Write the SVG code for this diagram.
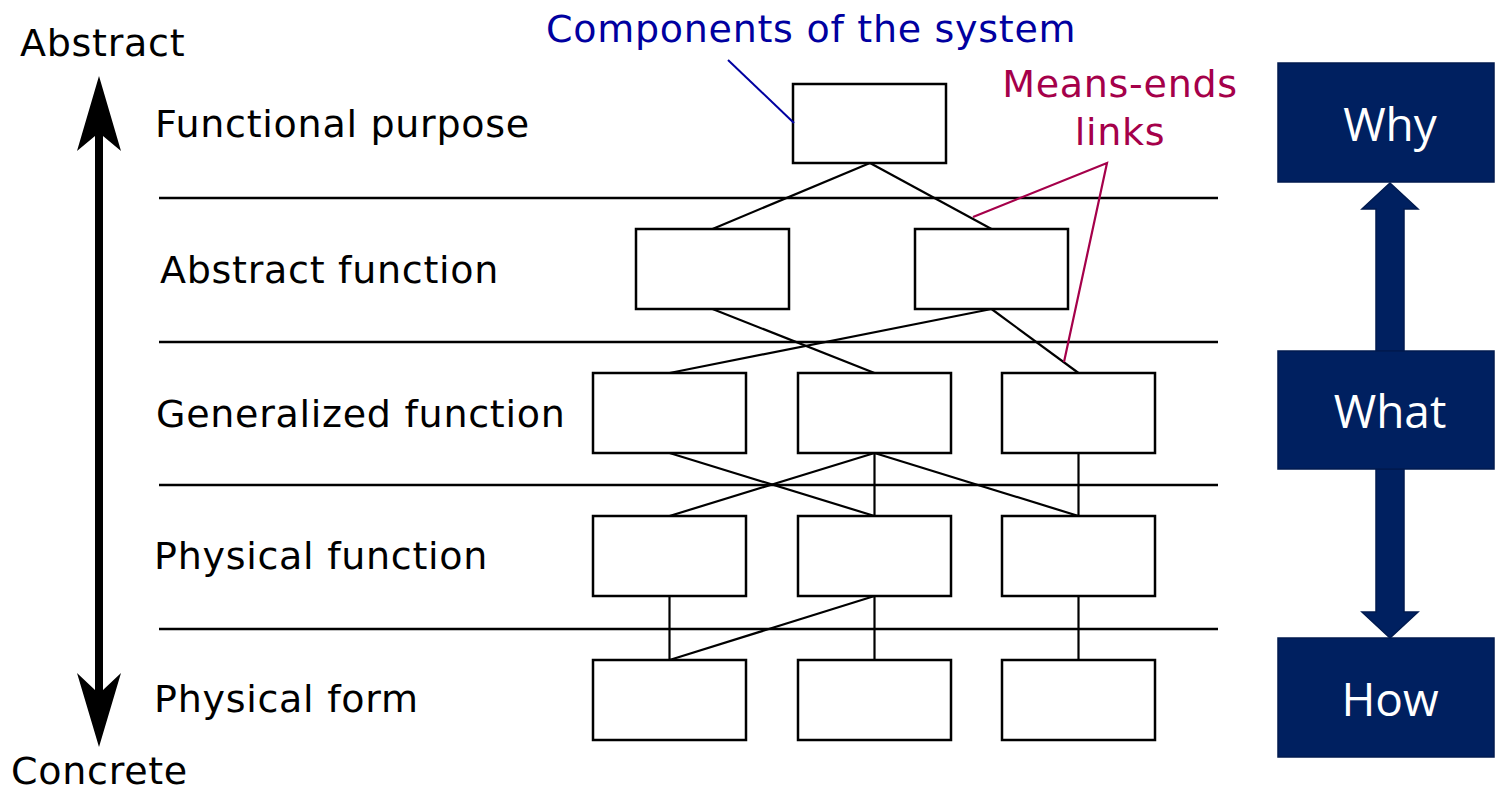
<svg xmlns="http://www.w3.org/2000/svg" width="1495" height="790" viewBox="0 0 1495 790">
  <style>
    .lbl { font-family: "DejaVu Sans", Verdana, sans-serif; font-size: 38px; letter-spacing: 0.72px; fill: #000; }
    .blue { fill: #0000a0; }
    .crimson { fill: #a5004a; }
    .box { fill: #fff; stroke: #000; stroke-width: 2.5; }
    .sep { stroke: #000; stroke-width: 2.5; fill: none; }
    .link { stroke: #000; stroke-width: 2.2; fill: none; }
    .navy { fill: #002060; stroke: #001a4f; stroke-width: 1.5; }
    .qtxt { font-family: "Open Sans", "Noto Sans", sans-serif; font-size: 46px; fill: #fff; text-anchor: middle; }
  </style>

  <!-- Abstract / concrete axis -->
  <g id="axis">
    <polygon points="99,76 121,151 103,136 103,690 121,673 99,747 77,673 95,690 95,136 77,151" fill="#000"/>
    <text class="lbl" x="20" y="56">Abstract</text>
    <text class="lbl" x="11" y="784">Concrete</text>
  </g>

  <!-- Level labels -->
  <g id="levels">
    <text class="lbl" x="155" y="137">Functional purpose</text>
    <text class="lbl" x="160" y="283">Abstract function</text>
    <text class="lbl" x="156" y="427">Generalized function</text>
    <text class="lbl" x="154" y="569">Physical function</text>
    <text class="lbl" x="154" y="712">Physical form</text>
  </g>

  <!-- Level separators -->
  <g id="separators">
    <line class="sep" x1="159" y1="198" x2="1218" y2="198"/>
    <line class="sep" x1="159" y1="342" x2="1218" y2="342"/>
    <line class="sep" x1="159" y1="485" x2="1218" y2="485"/>
    <line class="sep" x1="159" y1="629" x2="1218" y2="629"/>
  </g>

  <!-- Means-ends connectors -->
  <g id="connectors">
    <line class="link" x1="870" y1="163" x2="712.5" y2="229"/>
    <line class="link" x1="870" y1="163" x2="991.5" y2="229"/>
    <line class="link" x1="712.5" y1="309" x2="874.5" y2="373"/>
    <line class="link" x1="991.5" y1="309" x2="669.5" y2="373"/>
    <line class="link" x1="991.5" y1="309" x2="1078.5" y2="373"/>
    <line class="link" x1="669.5" y1="453" x2="874.5" y2="516"/>
    <line class="link" x1="874.5" y1="453" x2="669.5" y2="516"/>
    <line class="link" x1="874.5" y1="453" x2="874.5" y2="516"/>
    <line class="link" x1="874.5" y1="453" x2="1078.5" y2="516"/>
    <line class="link" x1="1078.5" y1="453" x2="1078.5" y2="516"/>
    <line class="link" x1="669.5" y1="596" x2="669.5" y2="660"/>
    <line class="link" x1="874.5" y1="596" x2="669.5" y2="660"/>
    <line class="link" x1="874.5" y1="596" x2="874.5" y2="660"/>
    <line class="link" x1="1078.5" y1="596" x2="1078.5" y2="660"/>
  </g>

  <!-- Components -->
  <g id="fp1"><rect class="box" x="793" y="84" width="153" height="79"/></g>
  <g id="af1"><rect class="box" x="636" y="229" width="153" height="80"/></g>
  <g id="af2"><rect class="box" x="915" y="229" width="153" height="80"/></g>
  <g id="gf1"><rect class="box" x="593" y="373" width="153" height="80"/></g>
  <g id="gf2"><rect class="box" x="798" y="373" width="153" height="80"/></g>
  <g id="gf3"><rect class="box" x="1002" y="373" width="153" height="80"/></g>
  <g id="pfn1"><rect class="box" x="593" y="516" width="153" height="80"/></g>
  <g id="pfn2"><rect class="box" x="798" y="516" width="153" height="80"/></g>
  <g id="pfn3"><rect class="box" x="1002" y="516" width="153" height="80"/></g>
  <g id="pfm1"><rect class="box" x="593" y="660" width="153" height="80"/></g>
  <g id="pfm2"><rect class="box" x="798" y="660" width="153" height="80"/></g>
  <g id="pfm3"><rect class="box" x="1002" y="660" width="153" height="80"/></g>

  <!-- Callouts -->
  <g id="components-callout">
    <text class="lbl blue" x="546" y="42">Components of the system</text>
    <line x1="728" y1="60" x2="794" y2="123" stroke="#0000a0" stroke-width="2"/>
  </g>
  <g id="means-ends-callout">
    <text class="lbl crimson" x="1120" y="97" text-anchor="middle">Means-ends</text>
    <text class="lbl crimson" x="1120" y="145" text-anchor="middle">links</text>
    <polyline points="973,217 1107,163 1064,362" fill="none" stroke="#a5004a" stroke-width="2.2"/>
  </g>

  <!-- Why / What / How -->
  <g id="why-what-how-arrows">
    <polygon class="navy" points="1390,183 1418,209 1404,209 1404,351 1376,351 1376,209 1362,209"/>
    <polygon class="navy" points="1376,469 1404,469 1404,612 1418,612 1390,638 1362,612 1376,612"/>
  </g>
  <g id="why">
    <rect class="navy" x="1278" y="63" width="216" height="119"/>
    <text class="qtxt" x="1390" y="141">Why</text>
  </g>
  <g id="what">
    <rect class="navy" x="1278" y="351" width="216" height="118"/>
    <text class="qtxt" x="1390" y="428">What</text>
  </g>
  <g id="how">
    <rect class="navy" x="1278" y="638" width="216" height="119"/>
    <text class="qtxt" x="1390" y="716">How</text>
  </g>
</svg>
